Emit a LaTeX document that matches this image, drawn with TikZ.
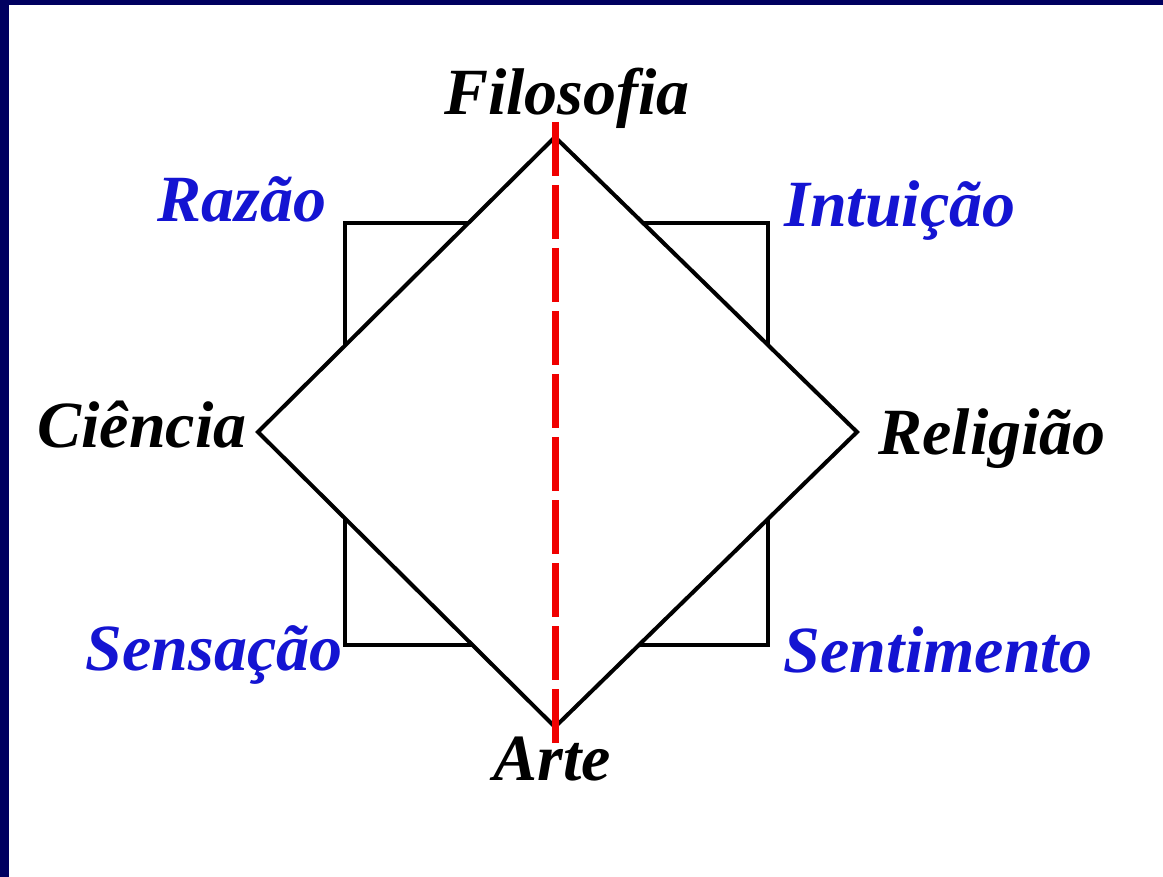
\documentclass[tikz,border=0pt]{standalone}
\usepackage{fontspec}
\setmainfont{Liberation Serif}
\definecolor{navyb}{RGB}{0,0,96}
\definecolor{lblue}{RGB}{20,20,210}
\definecolor{dred}{RGB}{240,0,0}
\begin{document}
\begin{tikzpicture}[x=1pt,y=-1pt,
  lbl/.style={anchor=base,inner sep=0pt,font=\fontsize{66}{72}\selectfont\bfseries\itshape},
  blk/.style={lbl,text=black},
  blu/.style={lbl,text=lblue},
  edge/.style={draw=black,line width=4pt,line join=miter},
  axis/.style={draw=dred,line width=7pt,dash pattern=on 54pt off 9pt}]
\useasboundingbox (0,0) rectangle (1163,877);
\fill[navyb] (0,0) rectangle (1163,877);
\fill[white] (9,5) rectangle (1163,877);
% square
\coordinate (s1) at (345,223);
\coordinate (s2) at (768,223);
\coordinate (s3) at (768,645);
\coordinate (s4) at (345,645);
\draw[edge] (s1) -- (s2) -- (s3) -- (s4) -- cycle;
% diamond
\coordinate (dt) at (555,137);
\coordinate (dr) at (857,432);
\coordinate (db) at (555,727);
\coordinate (dl) at (258,432);
\filldraw[edge,fill=white] (dt) -- (dr) -- (db) -- (dl) -- cycle;
% axis
\coordinate (at) at (555,122);
\coordinate (ab) at (555,752);
\draw[axis] (at) -- (ab);
% labels
\node[blk] (fil) at (567,115) {Filosofia};
\node[blk] (art) at (552,780) {Arte};
\node[blk] (cie) at (142,447) {Ciência};
\node[blk] (rel) at (992,455) {Religião};
\node[blu] (raz) at (242,222) {Razão};
\node[blu] (int) at (900,227) {Intuição};
\node[blu] (sen) at (214,670) {Sensação};
\node[blu] (snt) at (938,672) {Sentimento};
\end{tikzpicture}
\end{document}
